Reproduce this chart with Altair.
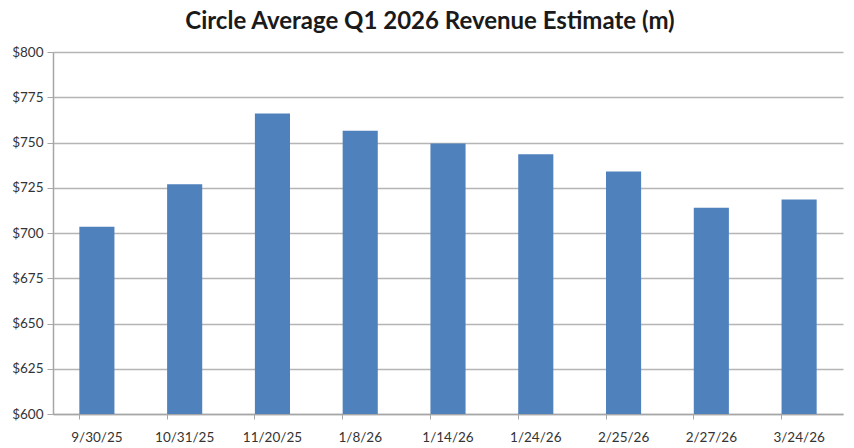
import altair as alt
import pandas as pd

dates = ["9/30/25", "10/31/25", "11/20/25", "1/8/26", "1/14/26",
         "1/24/26", "2/25/26", "2/27/26", "3/24/26"]
revenue = [703.5, 727.0, 766.0, 756.5, 749.5, 743.5, 734.0, 714.0, 718.5]
y_ticks = [600, 625, 650, 675, 700, 725, 750, 775, 800]

df = pd.DataFrame({"date": dates, "revenue": revenue})

W, H = 790, 362

chart = alt.Chart(df).mark_bar(color="#4F81BD", clip=True).encode(
    x=alt.X("date:N", sort=dates, title=None,
            scale=alt.Scale(paddingInner=0.6, paddingOuter=0.3),
            axis=alt.Axis(bandPosition=0, labelAngle=0,
                          labelAlign="center",
                          labelFont="Lato", labelFontSize=13.5, labelColor="#333333",
                          labelPadding=11, tickSize=5, tickColor="#a6a6a6",
                          domainColor="#a6a6a6", domainWidth=1.5, grid=False)),
    y=alt.Y("revenue:Q", title=None,
            scale=alt.Scale(domain=[600, 800], nice=False, zero=False),
            axis=alt.Axis(values=y_ticks, format="$.0f", labelFont="Lato",
                          labelFontSize=13.5, labelColor="#333333", labelPadding=4,
                          tickSize=6, tickColor="#a6a6a6", domainColor="#a6a6a6",
                          domainWidth=1.5, gridColor="#b5b5b5", gridWidth=1.5)),
).properties(
    width=W, height=H,
    autosize="none",
    padding={"left": 45, "top": 44, "right": 3, "bottom": 34},
    title=alt.TitleParams("Circle Average Q1 2026 Revenue Estimate (m)",
                          font="Lato", fontSize=24, fontWeight="bold",
                          color="#1a1a1a", anchor="middle", dx=-18, offset=11),
).configure_view(stroke=None)

chart.save("out.html", embed_options={"renderer": "svg", "actions": False})
